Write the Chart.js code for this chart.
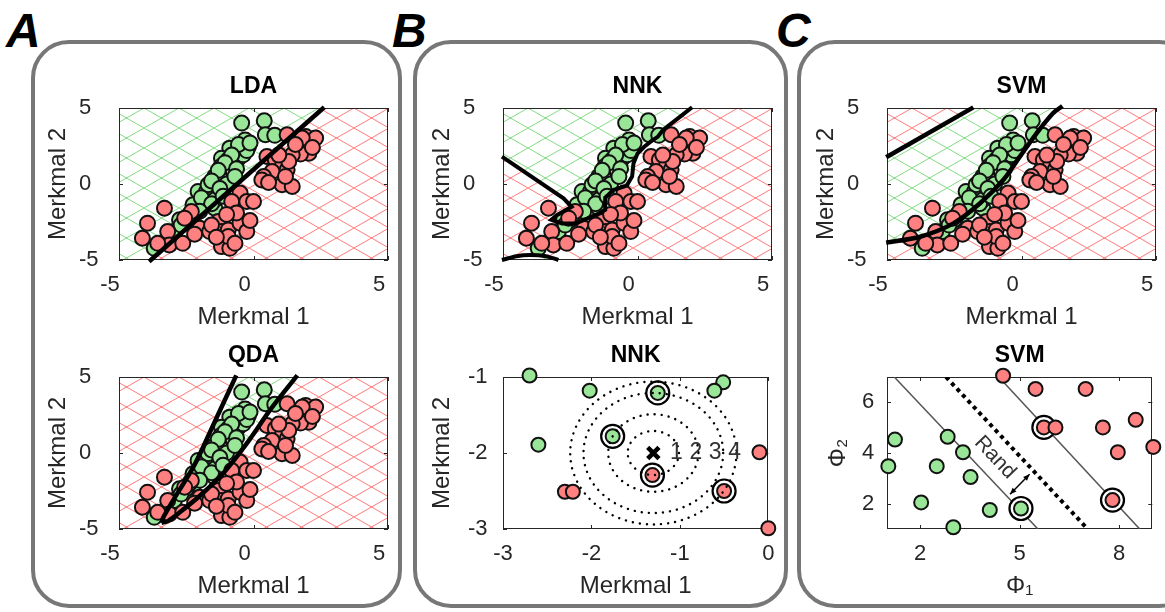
<!DOCTYPE html>
<html>
<head>
<meta charset="utf-8">
<script src="https://cdn.jsdelivr.net/npm/chart.js@4.4.1/dist/chart.umd.min.js"></script>
<style>
body { margin: 0; width: 1165px; height: 612px; overflow: hidden; background: #fff; position: relative; }
.box { position: absolute; border: 4px solid #777; border-radius: 38px; box-sizing: border-box; }
.tag { position: absolute; font: italic bold 48px 'Liberation Sans', Arial, sans-serif; color: #000; line-height: 1; }
canvas { position: absolute; }
</style>
</head>
<body>
<div class="box" style="left:31px;top:40px;width:371px;height:568px"></div>
<div class="box" style="left:413px;top:40px;width:375px;height:568px"></div>
<div class="box" style="left:797px;top:40px;width:400px;height:568px"></div>
<div class="tag" style="left:6px;top:7px">A</div>
<div class="tag" style="left:392px;top:7px">B</div>
<div class="tag" style="left:776px;top:7px">C</div>

<script>
// Merkmal 1 / Merkmal 2 Stichprobe (gleich in LDA, QDA, NNK, SVM oben)
const greenM1 = [-0.44, 0.40, 0.44, 0.79, -0.19, -0.50, -0.69, -0.88, -1.19, -0.94, -0.56, -0.75, -1.21, -1.44, -1.19, -0.75, -1.00, -2.06, -1.75, -1.44, -1.88, -2.25, -1.44, -2.19, -2.50, -2.75, -2.94, -3.69, -1.44, -1.69, -0.38, -0.25,
                 -0.31, -0.56, -0.81, -1.06, -0.63, -1.31, -1.56, -1.25, -1.94, -1.56, -2.00, -2.38, -2.69, -1.13, -0.69, -0.13];
const greenM2 = [4.01, 4.16, 3.24, 3.20, 2.47, 2.36, 2.14, 2.36, 1.70, 1.59, 1.70, 1.26, 1.15, 0.49, 0.27, 0.82, 0.00, -0.49, -0.49, -0.49, -1.15, -1.37, -1.59, -2.03, -2.36, -2.36, -3.13, -4.23, -1.04, -0.05, 1.92, 2.20,
                 2.90, 2.60, 1.90, 1.40, 1.00, 0.90, 0.20, -0.30, -0.90, -1.30, -1.80, -2.00, -2.70, -0.80, 0.50, 2.70];
const redM1 = [1.25, 1.94, 2.31, 2.06, 1.75, 1.44, 0.50, 0.81, 1.06, 1.25, 0.69, 0.38, 0.31, 1.06, 1.44, -0.50, -0.81, -0.25, 0.00, -3.31, -3.94, -4.13, -3.19, -3.13, -2.63, -2.00, -1.63, -1.31, -1.19, -0.94, -0.50, -0.25, -1.19, -0.88, -0.94, -2.31, -2.56, 1.31, 1.81,
               1.56, 2.19, 0.94, 1.19, 0.56, -0.63, -1.00, -0.13, -1.56, -2.19, -0.69, -3.56, -1.38];
const redM2 = [3.24, 3.13, 3.02, 2.03, 1.97, 1.92, 1.81, 1.59, 1.15, 0.93, 0.82, 0.49, 0.27, -0.05, -0.16, -0.60, -1.15, -1.15, -1.15, -1.59, -2.58, -3.57, -3.13, -4.01, -3.90, -2.91, -3.13, -2.47, -3.13, -3.02, -2.58, -3.13, -4.12, -4.23, -3.46, -1.81, -2.25, 1.48, 3.02,
               2.60, 2.40, 1.90, 0.50, 0.10, -1.90, -2.00, -2.40, -2.70, -3.30, -3.90, -3.90, -3.50];
const merkmalTicks = [-5, 0, 5];

// Entscheidungsgrenzen
const ldaLineX = [-3.88, 2.63];
const ldaLineY = [-5.1, 5.05];
const qdaLeftX = [-3.42, -3.36, -2.93, -2.19, -1.44, -0.64];
const qdaLeftY = [-4.59, -4.26, -2.95, -0.77, 2.06, 5.11];
const qdaRightX = [-3.42, -3.18, -2.68, -1.94, -1.07, -0.2, 0.66, 1.63];
const qdaRightY = [-4.59, -4.48, -3.82, -2.73, -1.21, 0.75, 2.93, 5.11];
const nnkLineX = [-5.04, -2.75, -2.45, -3.0, -3.2, -2.8, -2.3, -1.9, -1.5, -1.2, -1.2, -0.9, -0.4, -0.2, -0.15, 0.0, 0.25, 0.5, 0.75, 0.95, 1.6, 2.03];
const nnkLineY = [1.8, -0.94, -1.5, -2.05, -2.35, -2.6, -2.6, -2.3, -2.0, -1.7, -0.9, -0.4, -0.1, 0.5, 1.35, 2.0, 2.45, 2.8, 3.1, 3.55, 4.45, 5.05];
const nnkPocketX = [-5.04, -4.5, -4.0, -3.4, -2.94];
const nnkPocketY = [-5.0, -4.75, -4.67, -4.75, -5.0];
const svmCurveX = [-5.03, -3.77, -2.53, -1.54, -0.68, -0.06, 0.56, 1.17, 1.52];
const svmCurveY = [-3.86, -3.47, -2.59, -1.27, 0.26, 1.8, 3.33, 4.65, 5.13];
const svmUpperX = [-5.03, -1.79];
const svmUpperY = [1.76, 5.04];

// NNK Beispiel
const nnkGreenX = [-2.7, -2.02, -1.25, -0.51, -0.61, -2.6, -1.76];
const nnkGreenY = [-0.98, -1.18, -1.21, -1.07, -1.18, -1.89, -1.78];
const nnkRedX = [-2.3, -2.21, -1.31, -0.5, -0.1, 0.0];
const nnkRedY = [-2.51, -2.51, -2.29, -2.5, -1.99, -2.99];
const nnkRingX = [-1.25, -1.76, -1.31, -0.5];
const nnkRingY = [-1.21, -1.78, -2.29, -2.5];
const nnkQueryX = [-1.3];
const nnkQueryY = [-2.0];
const nnkRadii = [0.29, 0.51, 0.79, 0.94];
const nnkNumX = [-1.04, -0.82, -0.60, -0.38];
const nnkNumText = ['1', '2', '3', '4'];
const nnkXTicks = [-3, -2, -1, 0];
const nnkYTicks = [-3, -2, -1];

// SVM Beispiel
const svmGreenX = [1.24, 1.04, 2.83, 3.29, 2.5, 3.52, 2.03, 4.1, 5.04, 3.0];
const svmGreenY = [4.53, 3.48, 4.64, 4.03, 3.48, 3.05, 2.05, 1.75, 1.81, 1.07];
const svmRedX = [4.5, 5.48, 6.99, 5.73, 6.08, 7.51, 8.5, 7.96, 9.03, 7.8];
const svmRedY = [7.05, 6.53, 6.53, 5.01, 5.01, 5.01, 5.31, 4.03, 4.24, 2.14];
const svmRingX = [5.04, 5.73, 7.8];
const svmRingY = [1.81, 5.01, 2.14];
const svmMarginAX = [1.22, 5.55];
const svmMarginAY = [7.0, 1.0];
const svmCenterX = [2.78, 7.05];
const svmCenterY = [7.0, 1.0];
const svmMarginBX = [4.37, 8.62];
const svmMarginBY = [7.0, 1.0];
const svmArrowX = [4.71, 5.3];
const svmArrowY = [2.37, 3.16];
const svmRandPos = [4.26, 3.82];
const svmXTicks = [2, 5, 8];
const svmYTicks = [2, 4, 6];

const FONT = "'Liberation Sans', Arial, sans-serif";
const GREEN = '#99e699';
const RED = '#ff8080';
Chart.defaults.font.family = FONT;
Chart.defaults.animation = false;

const extras = {};
const pts = (xs, ys) => xs.map((v, i) => ({ x: v, y: ys[i] }));

function hatch(ctx, color) {
    const c = document.createElement('canvas');
    c.width = 35; c.height = 20;
    const g = c.getContext('2d');
    g.strokeStyle = color; g.lineWidth = 1;
    g.beginPath();
    g.moveTo(0, 0); g.lineTo(35, 20);
    g.moveTo(0, 20); g.lineTo(35, 0);
    g.stroke();
    return ctx.createPattern(c, 'repeat');
}

// Schraffur, Rahmen und Ticks nach innen (wie in MATLAB)
const framePlugin = {
    id: 'frame',
    beforeDatasetsDraw(chart) {
        const ex = extras[chart.canvas.id] || {};
        const { ctx, chartArea: a } = chart;
        const x = chart.scales.x, y = chart.scales.y;
        if (ex.greenAreas) {
            ctx.save();
            ctx.beginPath(); ctx.rect(a.left, a.top, a.width, a.height); ctx.clip();
            ctx.fillStyle = hatch(ctx, 'rgba(255,90,90,0.8)');
            ctx.fillRect(a.left, a.top, a.width, a.height);
            ex.greenAreas.forEach(([xs, ys]) => {
                ctx.beginPath();
                xs.forEach((v, i) => ctx.lineTo(x.getPixelForValue(v), y.getPixelForValue(ys[i])));
                ctx.closePath();
                ctx.fillStyle = '#fff'; ctx.fill();
                ctx.fillStyle = hatch(ctx, 'rgba(100,210,100,0.8)'); ctx.fill();
            });
            ctx.restore();
        }
        ctx.save();
        ctx.strokeStyle = '#262626'; ctx.lineWidth = 1;
        ctx.strokeRect(Math.round(a.left) + 0.5, Math.round(a.top) + 0.5, Math.round(a.width) - 1, Math.round(a.height) - 1);
        ctx.beginPath();
        x.ticks.forEach(t => {
            const p = Math.round(x.getPixelForValue(t.value)) + 0.5;
            ctx.moveTo(p, a.bottom); ctx.lineTo(p, a.bottom - 4);
            ctx.moveTo(p, a.top); ctx.lineTo(p, a.top + 4);
        });
        y.ticks.forEach(t => {
            const p = Math.round(y.getPixelForValue(t.value)) + 0.5;
            ctx.moveTo(a.left, p); ctx.lineTo(a.left + 4, p);
            ctx.moveTo(a.right, p); ctx.lineTo(a.right - 4, p);
        });
        ctx.stroke();
        ctx.restore();
    },
    afterDatasetsDraw(chart) {
        const ex = extras[chart.canvas.id] || {};
        if (ex.after) ex.after(chart);
    }
};

const dots = (xs, ys, color, r) => ({
    data: pts(xs, ys), backgroundColor: color, borderColor: '#111', borderWidth: 2,
    pointRadius: r || 7.5, pointHoverRadius: r || 7.5, clip: false
});
const curve = (xs, ys, extra) => Object.assign({
    data: pts(xs, ys), showLine: true, pointRadius: 0, pointHoverRadius: 0,
    borderColor: '#000', borderWidth: 4.5, clip: false, fill: false, tension: 0
}, extra);

function makePlot(id, c) {
    const canvas = document.createElement('canvas');
    canvas.id = id;
    canvas.width = 359; canvas.height = 268;
    canvas.style.left = (c.left - 80) + 'px';
    canvas.style.top = (c.top - 40) + 'px';
    document.body.appendChild(canvas);
    extras[id] = { greenAreas: c.greenAreas, after: c.after };

    new Chart(canvas, {
        type: 'scatter',
        data: { datasets: c.datasets },
        plugins: [framePlugin],
        options: {
            responsive: false,
            devicePixelRatio: 1,
            layout: { padding: { left: 80 - c.labelGap, right: 10, top: 0, bottom: 0 } },
            plugins: {
                legend: { display: false },
                tooltip: { enabled: false },
                title: {
                    display: true, text: c.title, fullSize: false, color: '#000',
                    font: { size: 23, weight: 'bold', lineHeight: 1 },
                    padding: { top: 7.5, bottom: 9.5 }
                }
            },
            scales: {
                x: {
                    type: 'linear', min: c.xr[0], max: c.xr[1],
                    afterBuildTicks: s => { s.ticks = c.xt.map(v => ({ value: v })); },
                    afterFit: s => { s.height = 76; s.paddingLeft = 0; s.paddingRight = 0; },
                    grid: { display: false, drawTicks: false },
                    border: { display: false },
                    ticks: {
                        color: '#262626', font: { size: 22, lineHeight: 1 }, padding: 14,
                        labelOffset: c.xOff || 0, maxRotation: 0, autoSkip: false,
                        callback: v => String(v)
                    },
                    title: {
                        display: true, text: c.xl, color: '#262626',
                        font: { size: 24, lineHeight: 1 }, padding: { top: 0, bottom: 7 }
                    }
                },
                y: {
                    type: 'linear', min: c.yr[0], max: c.yr[1],
                    afterBuildTicks: s => { s.ticks = c.yt.map(v => ({ value: v })); },
                    afterFit: s => { s.width = c.labelGap; s.paddingTop = 0; s.paddingBottom = 0; },
                    grid: { display: false, drawTicks: false },
                    border: { display: false },
                    ticks: {
                        color: '#262626', font: { size: 22, lineHeight: 1 }, padding: 0,
                        crossAlign: 'far', autoSkip: false, callback: v => String(v)
                    },
                    title: {
                        display: true, text: c.yl, color: '#262626',
                        font: { size: 24, lineHeight: 1 },
                        padding: { top: c.labelGap - c.titleGap - 12, bottom: 0 }
                    }
                }
            }
        }
    });
}

const topBase = {
    xr: [-5, 5], yr: [-5, 5], xt: merkmalTicks, yt: merkmalTicks,
    xl: 'Merkmal 1', yl: 'Merkmal 2', labelGap: 40, titleGap: 61, xOff: -9
};
const sampleDots = () => [dots(redM1, redM2, RED), dots(greenM1, greenM2, GREEN)];

// A oben: LDA
makePlot('lda', Object.assign({}, topBase, {
    left: 119, top: 108, title: 'LDA',
    datasets: [curve(ldaLineX, ldaLineY)].concat(sampleDots()),
    greenAreas: [[ldaLineX.concat([-5.6, -5.6]), ldaLineY.concat([5.6, -5.6])]]
}));

// A unten: QDA
makePlot('qda', Object.assign({}, topBase, {
    left: 119, top: 377, title: 'QDA',
    datasets: [curve(qdaLeftX, qdaLeftY, { tension: 0.3 }), curve(qdaRightX, qdaRightY, { tension: 0.3 })].concat(sampleDots()),
    greenAreas: [[qdaLeftX.slice().reverse().concat(qdaRightX.slice(1)), qdaLeftY.slice().reverse().concat(qdaRightY.slice(1))]]
}));

// B oben: NNK
makePlot('nnk', Object.assign({}, topBase, {
    left: 503, top: 108, title: 'NNK',
    datasets: [curve(nnkLineX, nnkLineY, { borderWidth: 4 }), curve(nnkPocketX, nnkPocketY, { borderWidth: 4, tension: 0.3 })].concat(sampleDots()),
    greenAreas: [
        [nnkLineX.concat([2.03, -5.6, -5.6]), nnkLineY.concat([5.6, 5.6, 1.8])],
        [nnkPocketX, nnkPocketY]
    ]
}));

// C oben: SVM
makePlot('svm', Object.assign({}, topBase, {
    left: 887, top: 108, title: 'SVM',
    datasets: [curve(svmCurveX, svmCurveY, { tension: 0.3 }), curve(svmUpperX, svmUpperY)].concat(sampleDots()),
    greenAreas: [[
        svmCurveX.concat([1.52, -1.79]).concat(svmUpperX.slice().reverse()),
        svmCurveY.concat([5.6, 5.6]).concat(svmUpperY.slice().reverse())
    ]]
}));

// B unten: NNK Beispiel
makePlot('nnk2', {
    left: 503, top: 377, title: 'NNK',
    xr: [-3, 0], yr: [-3, -1], xt: nnkXTicks, yt: nnkYTicks,
    xl: 'Merkmal 1', yl: 'Merkmal 2', labelGap: 35, titleGap: 61,
    datasets: [
        { data: pts(nnkQueryX, nnkQueryY), pointStyle: 'crossRot', pointRadius: 8, pointHoverRadius: 8, borderColor: '#000', borderWidth: 4.5, clip: false },
        dots(nnkGreenX, nnkGreenY, GREEN, 7),
        dots(nnkRedX, nnkRedY, RED, 7),
        { data: pts(nnkRingX, nnkRingY), pointRadius: 11.5, pointHoverRadius: 11.5, backgroundColor: '#fff', borderColor: '#000', borderWidth: 2.2, clip: false }
    ],
    after(chart) {
        const { ctx } = chart;
        const x = chart.scales.x, y = chart.scales.y;
        const cx = x.getPixelForValue(nnkQueryX[0]), cy = y.getPixelForValue(nnkQueryY[0]);
        ctx.save();
        ctx.strokeStyle = '#000'; ctx.lineWidth = 2.4; ctx.lineCap = 'round';
        ctx.setLineDash([0.1, 7]);
        nnkRadii.forEach(r => {
            const rx = x.getPixelForValue(nnkQueryX[0] + r) - cx;
            const ry = cy - y.getPixelForValue(nnkQueryY[0] + r);
            ctx.beginPath(); ctx.ellipse(cx, cy, rx, ry, 0, 0, Math.PI * 2); ctx.stroke();
        });
        ctx.setLineDash([]);
        ctx.fillStyle = '#333'; ctx.font = '23px ' + FONT;
        ctx.textAlign = 'center'; ctx.textBaseline = 'middle';
        nnkNumText.forEach((t, i) => ctx.fillText(t, x.getPixelForValue(nnkNumX[i]), cy));
        ctx.restore();
    }
});

// C unten: SVM Beispiel
makePlot('svm2', {
    left: 887, top: 377, title: 'SVM',
    xr: [1, 9], yr: [1, 7], xt: svmXTicks, yt: svmYTicks,
    xl: 'Φ₁', yl: 'Φ₂', labelGap: 25, titleGap: 49,
    datasets: [
        dots(svmGreenX, svmGreenY, GREEN, 7),
        dots(svmRedX, svmRedY, RED, 7),
        { data: pts(svmRingX, svmRingY), pointRadius: 11.5, pointHoverRadius: 11.5, backgroundColor: '#fff', borderColor: '#000', borderWidth: 2.2, clip: false },
        curve(svmCenterX, svmCenterY, { borderWidth: 4, borderDash: [4, 4], clip: true }),
        curve(svmMarginAX, svmMarginAY, { borderWidth: 1.5, borderColor: '#555', clip: true }),
        curve(svmMarginBX, svmMarginBY, { borderWidth: 1.5, borderColor: '#555', clip: true })
    ],
    after(chart) {
        const { ctx } = chart;
        const x = chart.scales.x, y = chart.scales.y;
        const x1 = x.getPixelForValue(svmArrowX[0]), y1 = y.getPixelForValue(svmArrowY[0]);
        const x2 = x.getPixelForValue(svmArrowX[1]), y2 = y.getPixelForValue(svmArrowY[1]);
        const ang = Math.atan2(y2 - y1, x2 - x1);
        ctx.save();
        ctx.strokeStyle = '#000'; ctx.fillStyle = '#000'; ctx.lineWidth = 1.5;
        ctx.beginPath(); ctx.moveTo(x1, y1); ctx.lineTo(x2, y2); ctx.stroke();
        [[x2, y2, ang], [x1, y1, ang + Math.PI]].forEach(([hx, hy, a]) => {
            ctx.beginPath();
            ctx.moveTo(hx, hy);
            ctx.lineTo(hx - 7 * Math.cos(a - 0.4), hy - 7 * Math.sin(a - 0.4));
            ctx.lineTo(hx - 7 * Math.cos(a + 0.4), hy - 7 * Math.sin(a + 0.4));
            ctx.closePath(); ctx.fill();
        });
        const lineAng = Math.atan2(
            y.getPixelForValue(svmMarginAY[1]) - y.getPixelForValue(svmMarginAY[0]),
            x.getPixelForValue(svmMarginAX[1]) - x.getPixelForValue(svmMarginAX[0]));
        ctx.translate(x.getPixelForValue(svmRandPos[0]), y.getPixelForValue(svmRandPos[1]));
        ctx.rotate(lineAng);
        ctx.fillStyle = '#333'; ctx.font = '21px ' + FONT;
        ctx.textAlign = 'center'; ctx.textBaseline = 'middle';
        ctx.fillText('Rand', 0, 0);
        ctx.restore();
    }
});
</script>
</body>
</html>
